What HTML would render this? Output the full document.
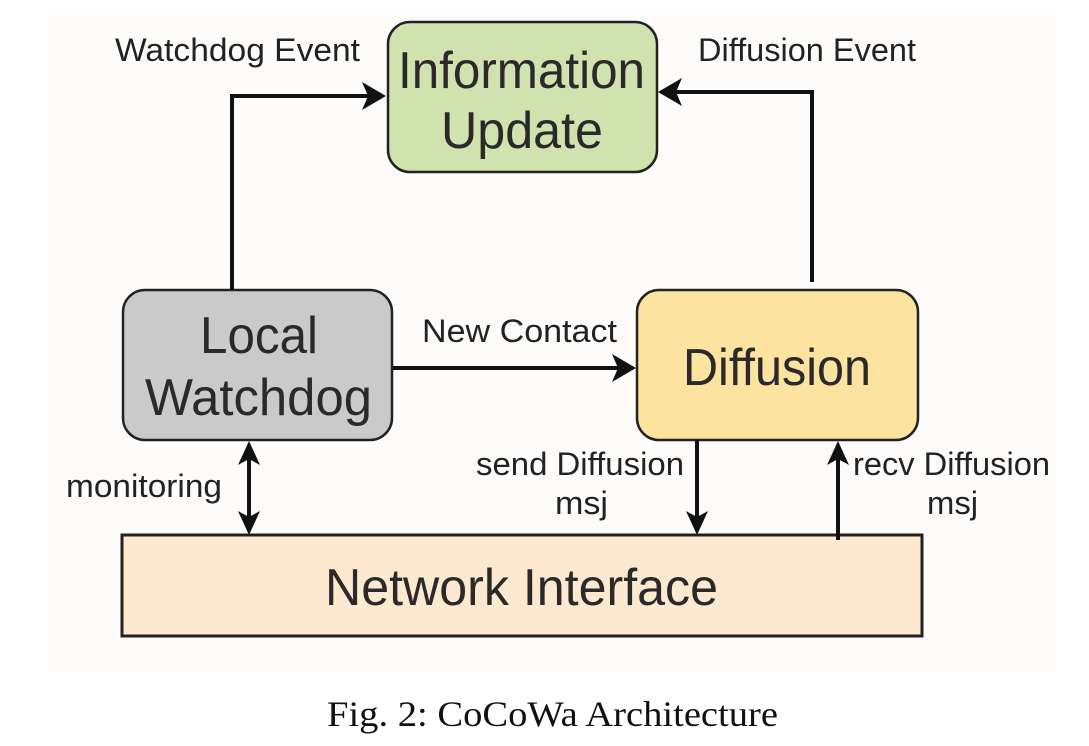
<!DOCTYPE html>
<html><head><style>
body{margin:0;width:1089px;height:741px;background:#fff;overflow:hidden}
</style></head><body>
<svg width="1089" height="741" xmlns="http://www.w3.org/2000/svg" font-family="Liberation Sans, sans-serif">
<rect x="48" y="10" width="1008" height="662" fill="#fdfcfa"/>
<rect x="388" y="22" width="269" height="150" rx="22" fill="#d0e2ad" stroke="#222" stroke-width="2.5"/>
<rect x="123" y="290" width="269" height="150" rx="22" fill="#cacaca" stroke="#222" stroke-width="2.5"/>
<rect x="637" y="290" width="281" height="150" rx="22" fill="#fde3a0" stroke="#222" stroke-width="2.5"/>
<rect x="122" y="535" width="800" height="101" fill="#fde9d0" stroke="#222" stroke-width="3"/>
<g stroke="#111" stroke-width="4" fill="none">
<polyline points="232,290 232,96 372,96"/>
<polyline points="812,282 812,92 672,92"/>
<line x1="392" y1="368" x2="622" y2="368"/>
<line x1="249" y1="455" x2="249" y2="522"/>
<line x1="697" y1="440" x2="697" y2="522"/>
<line x1="838" y1="540" x2="838" y2="455"/>
</g>
<g fill="#111">
<path d="M386,96 L362,82 L368,96 L362,110 Z"/>
<path d="M658,92 L682,78 L676,92 L682,106 Z"/>
<path d="M636,368 L612,354 L618,368 L612,382 Z"/>
<path d="M249,441 L238,465 L249,459 L260,465 Z"/>
<path d="M249,535 L238,511 L249,517 L260,511 Z"/>
<path d="M697,535 L686,511 L697,517 L708,511 Z"/>
<path d="M838,441 L827,465 L838,459 L849,465 Z"/>
</g>
<g fill="#2a2a2a" font-size="52">
<text x="398" y="88" textLength="247" lengthAdjust="spacingAndGlyphs">Information</text>
<text x="441" y="148" textLength="162" lengthAdjust="spacingAndGlyphs">Update</text>
<text x="200" y="353" textLength="118" lengthAdjust="spacingAndGlyphs">Local</text>
<text x="145" y="415" textLength="227" lengthAdjust="spacingAndGlyphs">Watchdog</text>
<text x="683" y="385" textLength="188" lengthAdjust="spacingAndGlyphs">Diffusion</text>
<text x="325" y="605" textLength="393" lengthAdjust="spacingAndGlyphs">Network Interface</text>
</g>
<g fill="#222" font-size="32">
<text x="115" y="61" textLength="245" lengthAdjust="spacingAndGlyphs">Watchdog Event</text>
<text x="698" y="61" textLength="218" lengthAdjust="spacingAndGlyphs">Diffusion Event</text>
<text x="422" y="342" textLength="195" lengthAdjust="spacingAndGlyphs">New Contact</text>
<text x="66" y="497" textLength="156" lengthAdjust="spacingAndGlyphs">monitoring</text>
<text x="476" y="475" textLength="208" lengthAdjust="spacingAndGlyphs">send Diffusion</text>
<text x="555" y="514" textLength="53" lengthAdjust="spacingAndGlyphs">msj</text>
<text x="853" y="475" textLength="197" lengthAdjust="spacingAndGlyphs">recv Diffusion</text>
<text x="927" y="514" textLength="51" lengthAdjust="spacingAndGlyphs">msj</text>
</g>
<text x="327" y="726" textLength="451" lengthAdjust="spacingAndGlyphs" font-family="Liberation Serif, serif" font-size="36" fill="#111">Fig. 2: CoCoWa Architecture</text>
</svg>
</body></html>
